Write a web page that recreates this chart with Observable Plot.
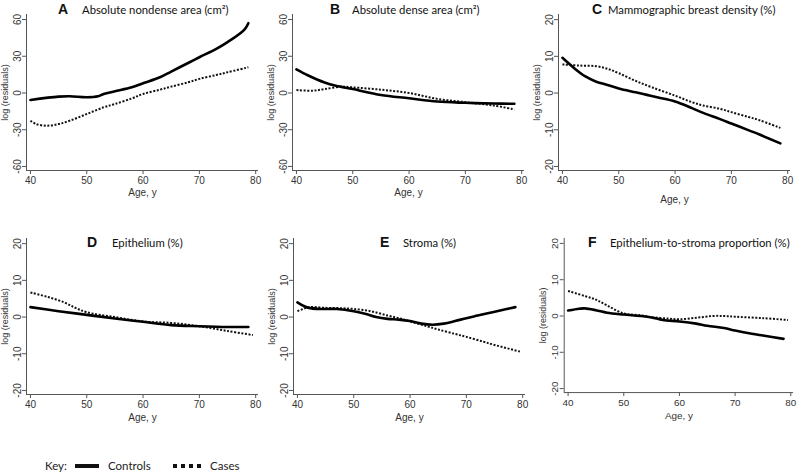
<!DOCTYPE html>
<html>
<head>
<meta charset="utf-8">
<script src="https://cdn.jsdelivr.net/npm/d3@7"></script>
<script src="https://cdn.jsdelivr.net/npm/@observablehq/plot@0.6"></script>
<style>
  html, body { margin: 0; padding: 0; background: #fff; }
  #wrap { position: relative; width: 800px; height: 472px; overflow: hidden; background: #fff; }
  .panel { position: absolute; }
  .ttl { position: absolute; white-space: nowrap; color: #111; line-height: 1; }
  .ttl b { font-family: "Liberation Sans", Arial, sans-serif; font-size: 14px; font-weight: bold; position: absolute; top: 0; }
  .ttl span { font-family: Lato, "Open Sans", sans-serif; font-size: 11.3px; position: absolute; top: 2px; }
  #key { position: absolute; left: 45px; top: 459px; font-family: Lato, "Open Sans", sans-serif; font-size: 11.5px; color: #222; }
</style>
</head>
<body>
<div id="wrap"></div>
<script>
// ---- data ----
const series = ["Controls", "Cases"];
const panelLetters = ["A", "B", "C", "D", "E", "F"];
const panelTitles = [
  "Absolute nondense area (cm\u00B2)",
  "Absolute dense area (cm\u00B2)",
  "Mammographic breast density (%)",
  "Epithelium (%)",
  "Stroma (%)",
  "Epithelium-to-stroma proportion (%)"
];
const xTicks = [40, 50, 60, 70, 80];
const yTicksWide = [-60, -30, 0, 30, 60];
const yTicksNarrow = [-20, -10, 0, 10, 20];

// Panel A
const ageA_controls = [40, 45, 47, 50, 52, 53, 55, 58, 60, 63, 65, 68, 70, 73, 75, 78, 78.7];
const resA_controls = [-5.7, -3, -2.7, -3.5, -2.7, -0.8, 1.4, 4.6, 7.9, 12.8, 17.5, 24.5, 29.2, 36, 41.5, 51.8, 57];
const ageA_cases = [40, 41, 43, 45, 47, 50, 53, 55, 58, 60, 63, 65, 68, 70, 73, 75, 78.7];
const resA_cases = [-22.6, -25.4, -26.7, -25.4, -22.6, -17.2, -11.7, -9, -4.4, -0.8, 2.7, 5.2, 8.7, 11.5, 14.7, 16.9, 21];
// Panel B
const ageB_controls = [40, 42, 45, 47, 50, 55, 60, 65, 70, 75, 78.7];
const resB_controls = [19.3, 14.5, 8.6, 5.9, 3.2, -1.6, -4.3, -7, -8, -8.6, -8.8];
const ageB_cases = [40, 43, 45, 48, 50, 55, 60, 65, 70, 75, 78.7];
const resB_cases = [2.4, 1.9, 3.2, 5.1, 4.6, 2.7, 0, -4.8, -7.5, -10.2, -13.4];
// Panel C
const ageC_controls = [40, 42, 44, 46, 48, 50, 53, 55, 57, 60, 63, 65, 68, 70, 73, 75, 78.7];
const resC_controls = [9.6, 6.9, 4.6, 3.1, 2.2, 1.25, 0.2, -0.5, -1.2, -2.3, -4.1, -5.4, -7.1, -8.3, -10.1, -11.3, -13.7];
const ageC_cases = [40, 43, 46, 48, 50, 53, 56, 60, 63, 65, 68, 70, 73, 75, 78.7];
const resC_cases = [7.8, 7.5, 7.3, 6.6, 5.4, 3.3, 1.5, -0.7, -2.5, -3.4, -4.3, -5.2, -6.5, -7.4, -9.5];
// Panel D
const ageD_controls = [40, 45, 50, 55, 60, 65, 70, 75, 78.7];
const resD_controls = [2.7, 1.6, 0.6, -0.4, -1.3, -2.2, -2.5, -2.7, -2.7];
const ageD_cases = [40, 43, 46, 48, 50, 55, 60, 65, 70, 75, 79.5];
const resD_cases = [6.7, 5.5, 4, 2.5, 1.3, 0, -1.2, -1.6, -2.5, -3.8, -4.9];
// Panel E
const ageE_controls = [40, 41, 42, 44, 47, 50, 52, 54, 56, 58, 60, 62, 64, 66, 68, 70, 72, 74, 76, 78.7];
const resE_controls = [4, 3.1, 2.5, 2.2, 2.2, 1.6, 0.9, 0, -0.5, -0.7, -1.1, -1.8, -2.1, -1.8, -1.1, -0.3, 0.4, 1.1, 1.8, 2.7];
const ageE_cases = [40, 41, 42, 45, 48, 50, 53, 56, 58, 60, 63, 65, 68, 70, 73, 75, 79.5];
const resE_cases = [1.6, 2.2, 2.7, 2.5, 2.4, 2.2, 1.6, 0.4, -0.3, -1.2, -2.5, -3.4, -4.6, -5.4, -6.7, -7.6, -9.4];
// Panel F
const ageF_controls = [40, 42, 43, 45, 47, 50, 53, 55, 57, 60, 63, 65, 68, 70, 73, 75, 78.7];
const resF_controls = [1.5, 2, 2.1, 1.6, 0.9, 0.4, 0, -0.4, -1.1, -1.5, -2.1, -2.7, -3.3, -4, -4.9, -5.4, -6.3];
const ageF_cases = [40, 43, 45, 47, 50, 53, 55, 58, 60, 63, 66, 68, 70, 75, 79.5];
const resF_cases = [6.9, 5.5, 4.5, 2.9, 0.7, 0.2, -0.3, -0.7, -0.9, -0.5, 0, 0, -0.2, -0.6, -1.1];

// ---- layout ----
const panelAges = [
  [ageA_controls, ageA_cases], [ageB_controls, ageB_cases], [ageC_controls, ageC_cases],
  [ageD_controls, ageD_cases], [ageE_controls, ageE_cases], [ageF_controls, ageF_cases]
];
const panelRes = [
  [resA_controls, resA_cases], [resB_controls, resB_cases], [resC_controls, resC_cases],
  [resD_controls, resD_cases], [resE_controls, resE_cases], [resF_controls, resF_cases]
];
const panelLeft = [0, 266, 532, 0, 267, 538];
const panelTop = [0, 0, 0, 224, 224, 224];
const ageDy = [22, 22, 29, 23, 23, 24];
// title: [letter center x, text start x, top y]
const titlePos = [[63, 82, 2], [335, 352, 2], [597, 608, 2], [92, 112, 235], [385, 403, 235], [593, 610, 235]];

const wrap = document.getElementById("wrap");
const axisColor = "#555";
const fontFam = "'Liberation Sans', Arial, sans-serif";

for (let i = 0; i < 6; i++) {
  const wide = i < 2;
  const yDomain = wide ? [-63.3, 64.1] : [-21.1, 21.4];
  const xDomain = [39.3, 80.5];
  const rows = [];
  series.forEach((s, k) => {
    panelAges[i][k].forEach((a, j) => rows.push({series: s, age: a, res: panelRes[i][k][j]}));
  });
  const plot = Plot.plot({
    width: 265,
    height: 205,
    marginLeft: 26,
    marginRight: 7,
    marginTop: 14,
    marginBottom: 35,
    style: {fontFamily: fontFam, fontSize: "10px", color: "#333", background: "transparent"},
    x: {domain: xDomain},
    y: {domain: yDomain},
    marks: [
      Plot.ruleX([xDomain[0]], {stroke: axisColor, strokeWidth: 1}),
      Plot.ruleY([yDomain[0]], {stroke: axisColor, strokeWidth: 1}),
      Plot.axisX({ticks: xTicks, tickSize: 4, tickPadding: 2, stroke: axisColor, label: null, tickFormat: d => String(d)}),
      Plot.axisY({ticks: wide ? yTicksWide : yTicksNarrow, tickSize: 4, tickPadding: 2, tickRotate: -90, stroke: axisColor, label: null, tickFormat: d => d < 0 ? "-" + Math.abs(d) : String(d)}),
      Plot.text(["log (residuals)"], {frameAnchor: "left", textAnchor: "middle", lineAnchor: "middle", rotate: -90, dx: -21, fontSize: 9, fill: "#333"}),
      Plot.text(["Age, y"], {frameAnchor: "bottom", textAnchor: "middle", lineAnchor: "middle", dy: ageDy[i], fontSize: 10, fill: "#333"}),
      Plot.line(rows.filter(d => d.series === "Cases"), {x: "age", y: "res", stroke: "#111", strokeWidth: 2, strokeLinecap: "butt", strokeLinejoin: "round", strokeDasharray: "2,1.6", curve: "catmull-rom"}),
      Plot.line(rows.filter(d => d.series === "Controls"), {x: "age", y: "res", stroke: "#000", strokeWidth: 2.6, curve: "catmull-rom"})
    ]
  });
  const div = document.createElement("div");
  div.className = "panel";
  div.style.left = panelLeft[i] + "px";
  div.style.top = panelTop[i] + "px";
  div.appendChild(plot);
  wrap.appendChild(div);

  const t = document.createElement("div");
  t.className = "ttl";
  t.style.left = "0px";
  t.style.top = titlePos[i][2] + "px";
  const b = document.createElement("b");
  b.textContent = panelLetters[i];
  b.style.left = (titlePos[i][0] - 5) + "px";
  const sp = document.createElement("span");
  sp.textContent = panelTitles[i];
  sp.style.left = titlePos[i][1] + "px";
  t.appendChild(b);
  t.appendChild(sp);
  wrap.appendChild(t);
}

// ---- key ----
const key = document.createElement("div");
key.id = "key";
key.innerHTML =
  '<span style="position:absolute;left:0;top:0">Key:</span>' +
  '<svg style="position:absolute;left:30px;top:2px" width="26" height="10"><line x1="0" x2="24" y1="5" y2="5" stroke="#111" stroke-width="4"/></svg>' +
  '<span style="position:absolute;left:63px;top:0">' + series[0] + '</span>' +
  '<svg style="position:absolute;left:128px;top:2px" width="32" height="10"><line x1="0" x2="30" y1="5" y2="5" stroke="#111" stroke-width="4" stroke-dasharray="4,4"/></svg>' +
  '<span style="position:absolute;left:165px;top:0">' + series[1] + '</span>';
wrap.appendChild(key);
</script>
</body>
</html>
